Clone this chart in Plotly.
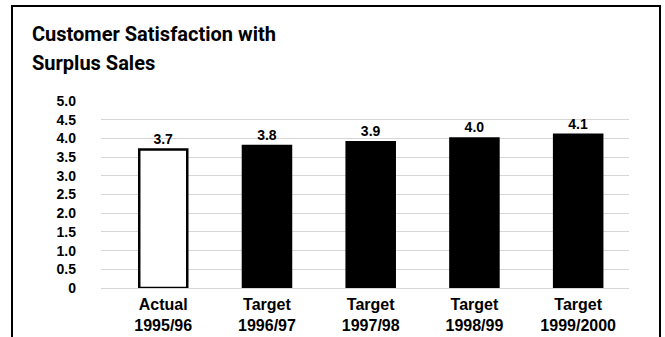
import plotly.graph_objects as go

# Satisfaction scores: actual result for 1995/96 followed by yearly targets
categories = ["Actual<br>1995/96", "Target<br>1996/97", "Target<br>1997/98",
              "Target<br>1998/99", "Target<br>1999/2000"]
scores = [3.7, 3.8, 3.9, 4.0, 4.1]
score_labels = ["3.7", "3.8", "3.9", "4.0", "4.1"]
y_tick_values = [0, 0.5, 1.0, 1.5, 2.0, 2.5, 3.0, 3.5, 4.0, 4.5, 5.0]
y_tick_labels = ["0", "0.5", "1.0", "1.5", "2.0", "2.5", "3.0", "3.5", "4.0", "4.5", "5.0"]
title_lines = ["Customer Satisfaction with", "Surplus Sales"]

W, H = 665, 337
ML, MR, MT, MB = 101, 36, 101, 49
BODY_FONT = "Liberation Sans, Arial, sans-serif"
TITLE_FONT = "Roboto, Liberation Sans, Arial, sans-serif"

# actual value drawn hollow, targets solid
fill_colors = ["white"] + ["black"] * (len(scores) - 1)

fig = go.Figure(
    go.Bar(
        x=categories,
        y=scores,
        width=0.463,
        marker=dict(color=fill_colors, line=dict(color="black", width=2.5)),
        text=score_labels,
        textposition="outside",
        textfont=dict(family=BODY_FONT, size=14, color="black", weight="bold"),
        cliponaxis=False,
        hoverinfo="skip",
    )
)

pw = W - ML - MR
ph = H - MT - MB


def px_x(x):
    return (x - ML) / pw


def px_y(y):
    return 1 - (y - MT) / ph


# two-line heading, each line placed separately for tighter leading
title_annotations = [
    dict(
        text=f"<b>{line}</b>",
        font=dict(family=TITLE_FONT, size=20, color="black"),
        xref="paper",
        yref="paper",
        x=px_x(30),
        y=px_y(y_center),
        xanchor="left",
        yanchor="middle",
        align="left",
        showarrow=False,
    )
    for line, y_center in zip(title_lines, [34, 63])
]

fig.update_layout(
    width=W,
    height=H,
    paper_bgcolor="white",
    plot_bgcolor="white",
    margin=dict(l=ML, r=MR, t=MT, b=MB, pad=0, autoexpand=False),
    showlegend=False,
    annotations=title_annotations,
    shapes=[
        dict(
            type="rect",
            xref="paper",
            yref="paper",
            x0=px_x(12),
            x1=px_x(660),
            y0=-0.5,
            y1=px_y(6),
            line=dict(color="black", width=2),
            fillcolor="rgba(0,0,0,0)",
            layer="above",
        )
    ],
)

fig.update_xaxes(
    type="category",
    range=[-0.6, 4.49],
    automargin=False,
    showgrid=False,
    showline=False,
    zeroline=False,
    ticks="",
    tickfont=dict(family=BODY_FONT, size=16, color="black", weight="bold"),
    ticklabelstandoff=5,
)

fig.update_yaxes(
    range=[0, 5],
    automargin=False,
    tickvals=y_tick_values,
    ticktext=y_tick_labels,
    showgrid=True,
    gridcolor="#d6d6d6",
    gridwidth=1,
    zeroline=True,
    zerolinecolor="#d6d6d6",
    zerolinewidth=1,
    showline=False,
    ticks="",
    tickfont=dict(family=BODY_FONT, size=14, color="black", weight="bold"),
    ticklabelstandoff=24,
)

fig.write_html("out.html")
